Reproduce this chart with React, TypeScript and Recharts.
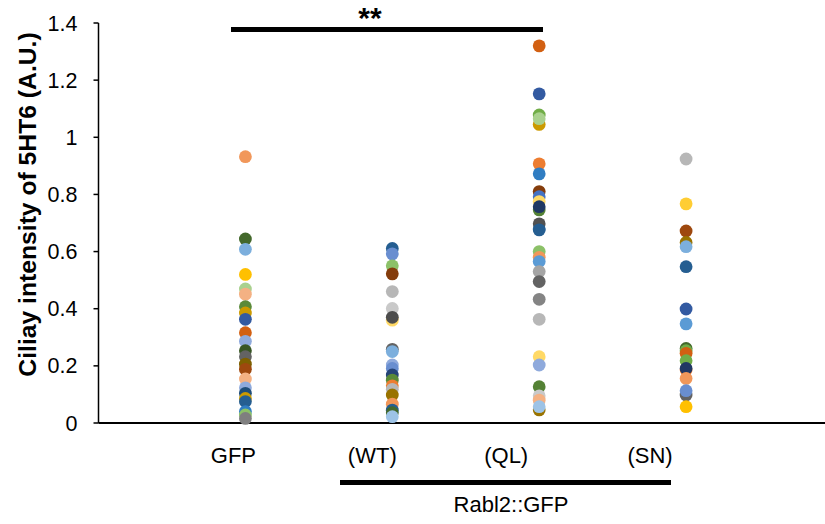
import { ScatterChart, Scatter, XAxis, YAxis } from 'recharts'

// group x positions and labels
const groupX = [1, 2, 3, 4]
const groupLabels = ['GFP', '(WT)', '(QL)', '(SN)']
const yTicks = [0, 0.2, 0.4, 0.6, 0.8, 1, 1.2, 1.4]

// values, one array per group
const gfpValues = [0.932, 0.644, 0.608, 0.52, 0.469, 0.451, 0.407, 0.385, 0.363, 0.316, 0.286, 0.253, 0.232, 0.206, 0.188, 0.154, 0.123, 0.104, 0.086, 0.075, 0.04, 0.028, 0.016]
const gfpColors = ['#F1975A', '#43682B', '#7CAFDD', '#FFC000', '#A9D18E', '#F4B183', '#5A8A39', '#CC9A00', '#335AA1', '#D26012', '#8FAADC', '#375623', '#636363', '#7F6000', '#9E480E', '#F4B183', '#8FAADC', '#1F4E79', '#CC9A00', '#255E91', '#307DC2', '#8CC168', '#7F7F7F']

const wtValues = [0.611, 0.592, 0.55, 0.522, 0.46, 0.401, 0.36, 0.37, 0.258, 0.25, 0.203, 0.191, 0.168, 0.15, 0.13, 0.118, 0.098, 0.066, 0.045, 0.036, 0.022]
const wtColors = ['#255E91', '#698ED0', '#8CC168', '#843C0C', '#B7B7B7', '#C9C9C9', '#FFD966', '#4D4D4D', '#636363', '#7CAFDD', '#8FAADC', '#698ED0', '#264478', '#5A8A39', '#ED7D31', '#B7B7B7', '#997300', '#F1975A', '#255E91', '#43682B', '#9DC3E6']

const qlValues = [1.32, 1.152, 1.078, 1.045, 1.065, 0.907, 0.872, 0.81, 0.792, 0.775, 0.746, 0.757, 0.68, 0.697, 0.676, 0.6, 0.58, 0.565, 0.53, 0.495, 0.433, 0.363, 0.232, 0.203, 0.127, 0.095, 0.08, 0.046, 0.057]
const qlColors = ['#D26012', '#335AA1', '#70AD47', '#CC9A00', '#A9D18E', '#ED7D31', '#307DC2', '#843C0C', '#4472C4', '#FFD966', '#548235', '#203864', '#2E75B6', '#525252', '#255E91', '#8CC168', '#F1975A', '#5B9BD5', '#A5A5A5', '#636363', '#848484', '#B7B7B7', '#FFD966', '#8FAADC', '#548235', '#C9C9C9', '#F4B183', '#997300', '#9DC3E6']

const snValues = [0.924, 0.767, 0.672, 0.632, 0.617, 0.547, 0.399, 0.347, 0.261, 0.253, 0.244, 0.218, 0.186, 0.191, 0.156, 0.098, 0.113, 0.057]
const snColors = ['#B7B7B7', '#FFCD33', '#9E480E', '#997300', '#7CAFDD', '#255E91', '#335AA1', '#5B9BD5', '#43682B', '#70AD47', '#D26012', '#70AD47', '#ED7D31', '#203864', '#F1975A', '#636363', '#698ED0', '#FFC000']

const groups = [
  { values: gfpValues, colors: gfpColors },
  { values: wtValues, colors: wtColors },
  { values: qlValues, colors: qlColors },
  { values: snValues, colors: snColors },
]

const FONT = '"Liberation Sans", Arial, sans-serif'

// category labels sit a little left of the dot columns in the original
const labelShift = [-12, -20, -33, -36]

function CategoryTick(props: any) {
  const { x, payload, index } = props
  return (
    <text x={x + labelShift[index]} y={463} textAnchor="middle" fontSize={22} fill="#000" fontFamily={FONT}>
      {groupLabels[index] ?? payload.value}
    </text>
  )
}

function Dot(props: any) {
  const { cx, cy, payload } = props
  return <circle cx={cx} cy={cy} r={6.4} fill={payload.color} />
}

function YTitle() {
  return (
    <text
      transform="translate(36, 204.5) rotate(-90)"
      textAnchor="middle"
      fontSize={24.7}
      fontWeight="bold"
      fill="#000"
      fontFamily={FONT}
    >
      Ciliay intensity of 5HT6 (A.U.)
    </text>
  )
}

export default function App() {
  return (
    <div style={{ position: 'absolute', left: 0, top: 0, width: 825, height: 524, overflow: 'hidden', background: '#fff', fontFamily: FONT }}>
      <ScatterChart width={833} height={524} margin={{ top: 23, right: 0, bottom: 0, left: 0 }}>
        <XAxis
          type="number"
          dataKey="x"
          domain={[0, 5]}
          ticks={groupX}
          tick={<CategoryTick />}
          tickLine={false}
          axisLine={{ stroke: '#000', strokeWidth: 2 }}
          height={101}
        />
        <YAxis
          type="number"
          dataKey="y"
          domain={[0, 1.4]}
          ticks={yTicks}
          width={98.5}
          tick={{ fontSize: 21.5, fill: '#000', fontFamily: FONT }}
          tickLine={{ stroke: '#000', strokeWidth: 1.5 }}
          tickSize={5}
          tickMargin={16}
          axisLine={{ stroke: '#000', strokeWidth: 1.5 }}
          label={<YTitle />}
        />
        {groups.map((g, gi) => (
          <Scatter
            key={gi}
            data={g.values.map((v, i) => ({ x: groupX[gi], y: v, color: g.colors[i] }))}
            shape={<Dot />}
            isAnimationActive={false}
          />
        ))}
      </ScatterChart>

      {/* significance bar GFP vs QL */}
      <div style={{ position: 'absolute', left: 231, top: 27, width: 312, height: 5, background: '#000' }} />
      <div style={{ position: 'absolute', left: 320, top: 0, width: 100, textAlign: 'center', fontSize: 30, fontWeight: 'bold', lineHeight: '36px' }}>**</div>

      {/* Rabl2::GFP bracket */}
      <div style={{ position: 'absolute', left: 340, top: 480, width: 331, height: 5, background: '#000' }} />
      <div style={{ position: 'absolute', left: 411, top: 492, width: 200, textAlign: 'center', fontSize: 22, lineHeight: '26px' }}>Rabl2::GFP</div>
    </div>
  )
}
